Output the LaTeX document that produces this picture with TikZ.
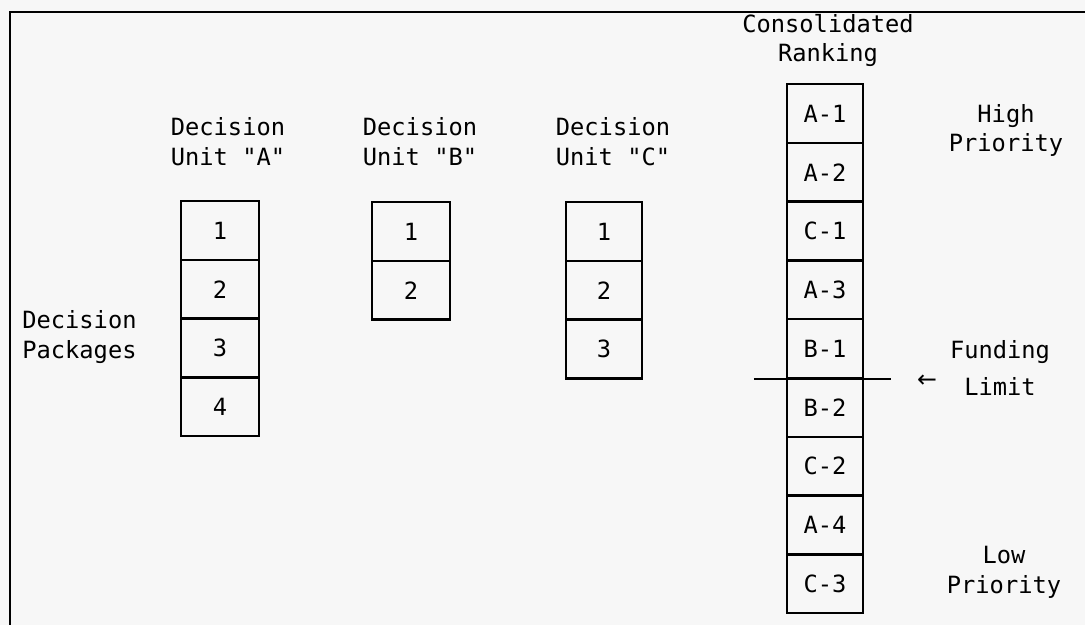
\documentclass[tikz,border=0pt]{standalone}
\usepackage{fontspec}
\setmainfont{DejaVu Sans Mono}[Ligatures=TeXOff]
\newfontfamily\symbfont{DejaVu Sans}
\newcommand\txtsize{\fontsize{13.5}{17}\selectfont}

\begin{document}
\begin{tikzpicture}[x=0.02cm, y=-0.02cm]
  % Styles
  \tikzset{
    pkg/.style={draw=black, line width=1.4pt, minimum width=1.56cm, minimum height=1.176cm, inner sep=0pt, font=\txtsize},
    lbl/.style={align=center, anchor=base, font=\txtsize, inner sep=0pt},
    trait/.style={line width=1.4pt},
  }

  % Fond et cadre
  \fill[black!3] (0,0) rectangle (1085,625);
  \useasboundingbox (0,0) rectangle (1085,625);
  \draw[trait] (10,625) -- (10,12) -- (1085,12);

  % Titres des colonnes (base = derniere ligne)
  \node[lbl] (ua) at (228,165) {Decision\\Unit "A"};
  \node[lbl] (ub) at (420,165) {Decision\\Unit "B"};
  \node[lbl] (uc) at (613,165) {Decision\\Unit "C"};
  \node[lbl] (cr) at (828,62) {Consolidated\\Ranking};
  \node[lbl, align=left, anchor=base west] (dp) at (22,358) {Decision\\Packages};

  % Colonnes de paquets
  \foreach \t [count=\i] in {1,2,3,4}
    \node[pkg] (a\i) at (220,{201+58.8*(\i-0.5)}) {\t};
  \foreach \t [count=\i] in {1,2}
    \node[pkg] (b\i) at (411,{202+58.8*(\i-0.5)}) {\t};
  \foreach \t [count=\i] in {1,2,3}
    \node[pkg, minimum width=1.52cm] (c\i) at (604,{202+58.8*(\i-0.5)}) {\t};

  % Classement consolide
  \foreach \t [count=\i] in {A-1,A-2,C-1,A-3,B-1,B-2,C-2,A-4,C-3}
    \node[pkg, minimum width=1.52cm] (r\i) at (825,{84+58.8*(\i-0.5)}) {\t};

  % Priorites et limite
  \node[lbl] (hp) at (1006,152) {High\\Priority};
  \node[lbl] (fl) at (1000,395) {Funding\\[4pt]Limit};
  \node[font=\txtsize\symbfont, inner sep=0pt] (fleche) at (927,381) {←};
  \node[lbl] (lp) at (1004,593) {Low\\Priority};
  \draw[trait] ([xshift=-0.64cm]r5.south west) -- ([xshift=0.54cm]r5.south east);

\end{tikzpicture}
\end{document}
